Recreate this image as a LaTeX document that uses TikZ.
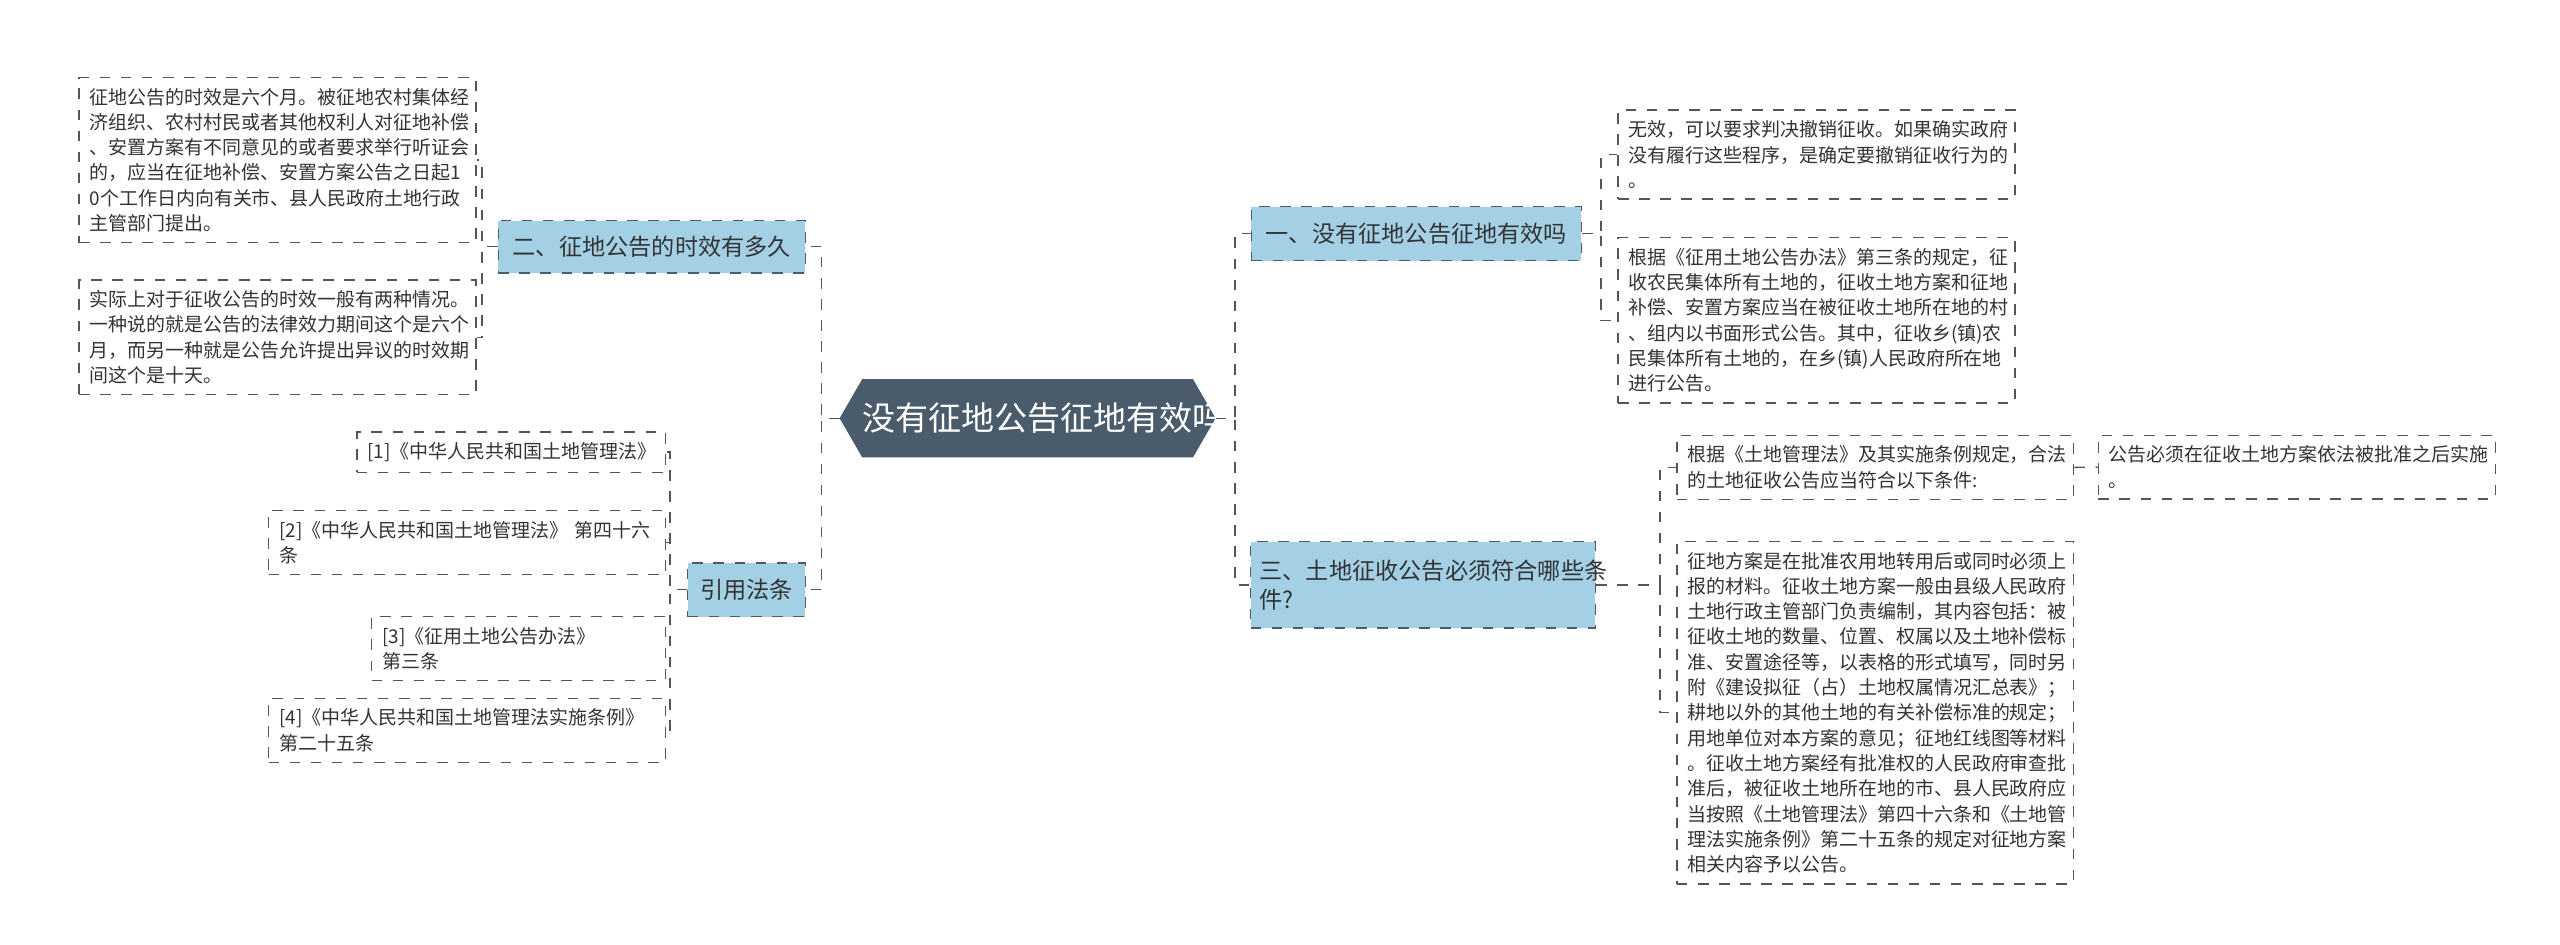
\documentclass[tikz,border=0pt]{standalone}
\usepackage{fontspec}
\setmainfont{Noto Sans CJK SC}
\usepackage{xcolor}
\usetikzlibrary{shapes.symbols}

\definecolor{hubfill}{HTML}{4A5B6B}
\definecolor{topicfill}{HTML}{A3D0E4}
\definecolor{inkgray}{HTML}{333333}
\definecolor{edgegray}{HTML}{555555}

\tikzset{
  topic/.style={draw=hubfill, dashed, fill=topicfill, text=inkgray, font=\fontsize{6.6}{8.2}\selectfont, align=left, inner sep=2pt},
  leaf/.style={draw=edgegray, dashed, fill=white, text=inkgray, font=\fontsize{5.4}{7.2}\selectfont, align=left, anchor=north west, inner sep=3pt},
  link/.style={draw=edgegray, dashed, thin}
}

\begin{document}
\begin{tikzpicture}[x=0.01634cm, y=-0.01634cm]

\useasboundingbox (0,0) rectangle (1567,578);

% centre
\node[signal, signal to=west and east, signal pointer angle=120, fill=hubfill, draw=hubfill, text=white, font=\fontsize{9.4}{11}\selectfont, minimum width=232\pgflinewidth, minimum height=47*0.01634cm, text width=202*0.01634cm, align=center, inner sep=0pt] (hub) at (629,256) {没有征地公告征地有效吗};

% left side
\node[topic, minimum width=188*0.01634cm, minimum height=32*0.01634cm] (t2) at (399,151) {二、征地公告的时效有多久};
\node[topic, minimum width=72*0.01634cm, minimum height=33*0.01634cm] (tref) at (457,361) {引用法条};

\node[leaf, text width=230*0.01634cm] (a1) at (48,47) {征地公告的时效是六个月。被征地农村集体经\\济组织、农村村民或者其他权利人对征地补偿\\、安置方案有不同意见的或者要求举行听证会\\的，应当在征地补偿、安置方案公告之日起1\\0个工作日内向有关市、县人民政府土地行政\\主管部门提出。};
\node[leaf, text width=230*0.01634cm] (a2) at (48,171) {实际上对于征收公告的时效一般有两种情况。\\一种说的就是公告的法律效力期间这个是六个\\月，而另一种就是公告允许提出异议的时效期\\间这个是十天。};

\node[leaf, text width=176*0.01634cm] (r1) at (218,264) {[1]《中华人民共和国土地管理法》};
\node[leaf, text width=230*0.01634cm] (r2) at (164,312) {[2]《中华人民共和国土地管理法》 第四十六\\条};
\node[leaf, text width=167*0.01634cm] (r3) at (227,377) {[3]《征用土地公告办法》 第三条};
\node[leaf, text width=230*0.01634cm] (r4) at (164,427) {[4]《中华人民共和国土地管理法实施条例》\\第二十五条};

% right side
\node[topic, minimum width=202*0.01634cm, minimum height=33*0.01634cm] (t1) at (867,143) {一、没有征地公告征地有效吗};
\node[topic, minimum width=211*0.01634cm, minimum height=53*0.01634cm, text width=200*0.01634cm] (t3) at (871,358) {三、土地征收公告必须符合哪些条\\件?};

\node[leaf, text width=230*0.01634cm] (b1) at (990,67) {无效，可以要求判决撤销征收。如果确实政府\\没有履行这些程序，是确定要撤销征收行为的\\。};
\node[leaf, text width=230*0.01634cm] (b2) at (990,145) {根据《征用土地公告办法》第三条的规定，征\\收农民集体所有土地的，征收土地方案和征地\\补偿、安置方案应当在被征收土地所在地的村\\、组内以书面形式公告。其中，征收乡(镇)农\\民集体所有土地的，在乡(镇)人民政府所在地\\进行公告。};
\node[leaf, text width=230*0.01634cm] (c1) at (1026,266) {根据《土地管理法》及其实施条例规定，合法\\的土地征收公告应当符合以下条件:};
\node[leaf, text width=230*0.01634cm] (c1a) at (1284,266) {公告必须在征收土地方案依法被批准之后实施\\。};
\node[leaf, text width=230*0.01634cm] (c2) at (1026,331) {征地方案是在批准农用地转用后或同时必须上\\报的材料。征收土地方案一般由县级人民政府\\土地行政主管部门负责编制，其内容包括：被\\征收土地的数量、位置、权属以及土地补偿标\\准、安置途径等，以表格的形式填写，同时另\\附《建设拟征（占）土地权属情况汇总表》；\\耕地以外的其他土地的有关补偿标准的规定；\\用地单位对本方案的意见；征地红线图等材料\\。征收土地方案经有批准权的人民政府审查批\\准后，被征收土地所在地的市、县人民政府应\\当按照《土地管理法》第四十六条和《土地管\\理法实施条例》第二十五条的规定对征地方案\\相关内容予以公告。};

% connectors
\draw[link] (hub.west) -- (503,256) |- (t2.east);
\draw[link] (hub.west) -- (503,256) |- (tref.east);
\draw[link] (t2.west) -- (295,151) |- (a1.east);
\draw[link] (t2.west) -- (295,151) |- (a2.east);
\foreach \r in {r1,r2,r3,r4}
  \draw[link] (tref.west) -- (410,361) |- (\r.east);

\draw[link] (hub.east) -- (756,256) |- (t1.west);
\draw[link] (hub.east) -- (756,256) |- (t3.west);
\draw[link] (t1.east) -- (980,143) |- (b1.west);
\draw[link] (t1.east) -- (980,143) |- (b2.west);
\draw[link] (t3.east) -- (1016,358) |- (c1.west);
\draw[link] (t3.east) -- (1016,358) |- (c2.west);
\draw[link] (c1.east) -- (c1a.west);

\end{tikzpicture}
\end{document}
